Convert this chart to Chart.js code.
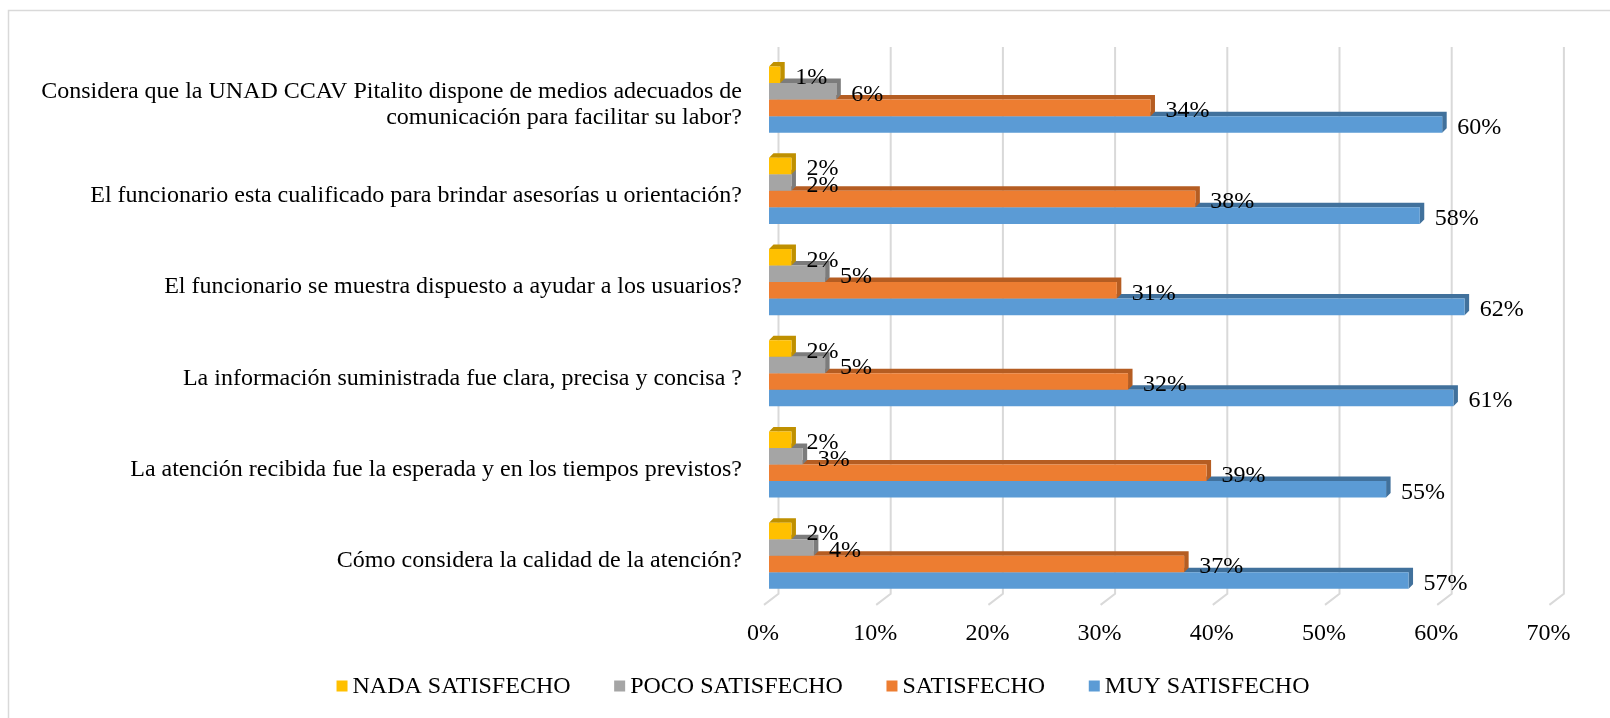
<!DOCTYPE html>
<html>
<head>
<meta charset="utf-8">
<script src="https://cdn.jsdelivr.net/npm/chart.js@4/dist/chart.umd.min.js"></script>
<style>
  html, body { margin: 0; padding: 0; background: #fff; overflow: hidden; }
  #wrap { width: 1610px; height: 718px; }
</style>
</head>
<body>
<div id="wrap"><canvas id="chart"></canvas></div>
<script>
const preguntas = [
  ["Considera que la UNAD CCAV Pitalito dispone de medios adecuados de", "comunicación para facilitar su labor?"],
  "El funcionario esta cualificado para brindar asesorías u orientación?",
  "El funcionario se muestra dispuesto a ayudar a los usuarios?",
  "La información suministrada fue clara, precisa y concisa ?",
  "La atención recibida fue la esperada y en los tiempos previstos?",
  "Cómo considera la calidad de la atención?"
];

const nadaSatisfecho = [1, 2, 2, 2, 2, 2];
const pocoSatisfecho = [6, 2, 5, 5, 3, 4];
const satisfecho     = [34, 38, 31, 32, 39, 37];
const muySatisfecho  = [60, 58, 62, 61, 55, 57];

const seriesNames = ["NADA SATISFECHO", "POCO SATISFECHO", "SATISFECHO", "MUY SATISFECHO"];
const xTicks = [0, 10, 20, 30, 40, 50, 60, 70];

const frontColors = ["#FFC000", "#A5A5A5", "#ED7D31", "#5B9BD5"];
const sideColors  = ["#BF9000", "#7C7C7C", "#B55D22", "#41719C"];

const FONT = "'Liberation Serif', 'Times New Roman', serif";
const DX = 4.5, DY = 4.5;

// border line top/left of the figure
const frame = {
  id: "frame",
  beforeDraw(chart) {
    const ctx = chart.ctx;
    ctx.save();
    ctx.strokeStyle = "#d9d9d9";
    ctx.lineWidth = 1.5;
    ctx.beginPath();
    ctx.moveTo(8.5, chart.height);
    ctx.lineTo(8.5, 10.5);
    ctx.lineTo(chart.width, 10.5);
    ctx.stroke();
    ctx.restore();
  }
};

// back wall grid + top/right faces of the bars
const bars3d = {
  id: "bars3d",
  beforeDatasetsDraw(chart) {
    const ctx = chart.ctx;
    const xs = chart.scales.x;
    const area = chart.chartArea;
    ctx.save();
    ctx.strokeStyle = "#d9d9d9";
    ctx.lineWidth = 2;
    xs.ticks.forEach(t => {
      const px = xs.getPixelForValue(t.value);
      ctx.beginPath();
      ctx.moveTo(px + 9.5, area.top - 7);
      ctx.lineTo(px + 9.5, area.bottom - 7.5);
      ctx.lineTo(px - 5, area.bottom + 3.5);
      ctx.stroke();
    });
    // lowest bar of each group first so upper bars sit on it
    for (let i = chart.data.datasets.length - 1; i >= 0; i--) {
      const meta = chart.getDatasetMeta(i);
      ctx.fillStyle = sideColors[i];
      meta.data.forEach(bar => {
        const p = bar.getProps(["x", "y", "base", "height"], true);
        const top = p.y - p.height / 2, bot = p.y + p.height / 2;
        ctx.beginPath();
        ctx.moveTo(p.base, top);
        ctx.lineTo(p.base + DX, top - DY);
        ctx.lineTo(p.x + DX, top - DY);
        ctx.lineTo(p.x + DX, bot - DY);
        ctx.lineTo(p.x, bot);
        ctx.lineTo(p.x, top);
        ctx.closePath();
        ctx.fill();
      });
    }
    ctx.restore();
  },
  afterDatasetsDraw(chart) {
    const ctx = chart.ctx;
    ctx.save();
    ctx.font = "24px " + FONT;
    ctx.fillStyle = "#000";
    ctx.textAlign = "left";
    ctx.textBaseline = "middle";
    chart.data.datasets.forEach((ds, i) => {
      chart.getDatasetMeta(i).data.forEach((bar, j) => {
        const p = bar.getProps(["x", "y"], true);
        ctx.fillText(ds.data[j] + "%", p.x + 15, p.y + 3);
      });
    });
    ctx.restore();
  }
};

// legend row under the axis
const legendRow = {
  id: "legendRow",
  afterDraw(chart) {
    const ctx = chart.ctx;
    const box = 11, gap = 5, spacing = 43.6, cx = 823, baseY = 693;
    ctx.save();
    ctx.font = "24px " + FONT;
    const widths = seriesNames.map(n => box + gap + ctx.measureText(n).width);
    const total = widths.reduce((a, b) => a + b, 0) + spacing * (widths.length - 1);
    let x = cx - total / 2;
    seriesNames.forEach((n, i) => {
      ctx.fillStyle = frontColors[i];
      ctx.fillRect(x, baseY - 12.5, box, 11);
      ctx.fillStyle = "#000";
      ctx.textBaseline = "alphabetic";
      ctx.fillText(n, x + box + gap, baseY);
      x += widths[i] + spacing;
    });
    ctx.restore();
  }
};

const seriesValues = [nadaSatisfecho, pocoSatisfecho, satisfecho, muySatisfecho];

new Chart(document.getElementById("chart"), {
  type: "bar",
  data: {
    labels: preguntas,
    datasets: seriesNames.map((name, i) => ({
      label: name,
      data: seriesValues[i],
      backgroundColor: frontColors[i],
      borderWidth: 0,
      categoryPercentage: 0.725,
      barPercentage: 1
    }))
  },
  options: {
    indexAxis: "y",
    responsive: true,
    maintainAspectRatio: false,
    animation: false,
    layout: { padding: { left: 10, right: 55.6, top: 54, bottom: 52 } },
    plugins: {
      legend: { display: false },
      tooltip: { enabled: false }
    },
    scales: {
      x: {
        min: 0,
        max: 70,
        grid: { display: false, drawTicks: false },
        border: { display: false },
        afterBuildTicks(scale) { scale.ticks = xTicks.map(v => ({ value: v })); },
        ticks: {
          padding: 19,
          labelOffset: -6,
          color: "#000",
          font: { family: FONT, size: 24, lineHeight: 1.11 },
          callback: v => v + "%"
        }
      },
      y: {
        grid: { display: false, drawTicks: false },
        border: { display: false },
        afterFit(scale) { scale.width = 759; },
        ticks: {
          autoSkip: false,
          padding: 27,
          labelOffset: 5,
          color: "#000",
          font: { family: FONT, size: 24, lineHeight: 1.11 }
        }
      }
    }
  },
  plugins: [frame, bars3d, legendRow]
});
</script>
</body>
</html>
